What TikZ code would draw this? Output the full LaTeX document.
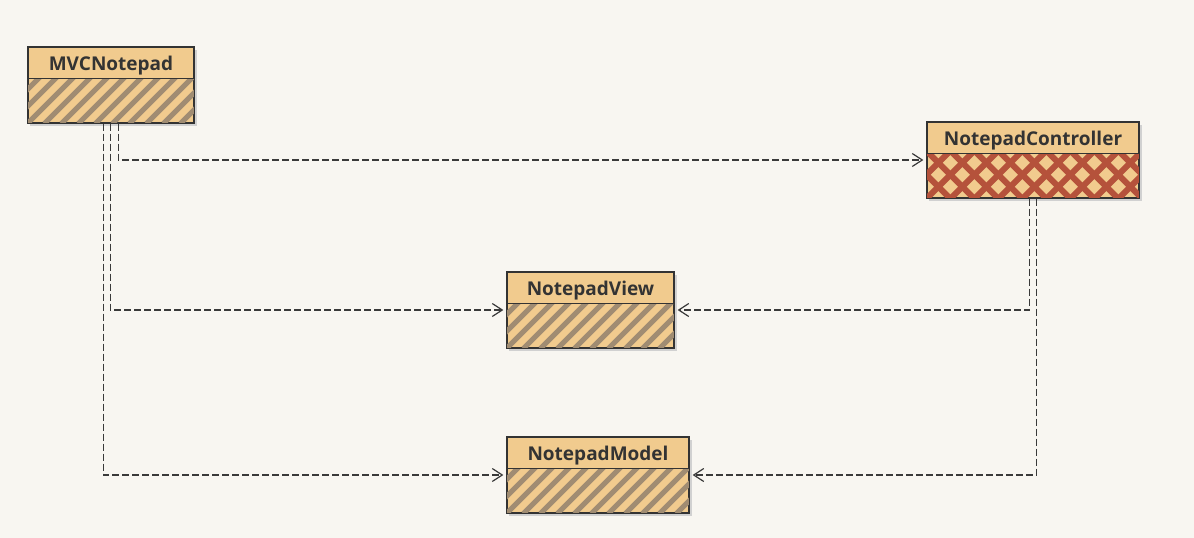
\documentclass[tikz,border=0pt]{standalone}
\usepackage{fontspec}
\setmainfont{Open Sans}
\usetikzlibrary{arrows.meta}
\definecolor{bg}{HTML}{F8F6F1}
\definecolor{tan}{HTML}{F1CB8E}
\definecolor{hatchc}{HTML}{A08C72}
\definecolor{crossc}{HTML}{B5523B}
\definecolor{ink}{HTML}{333333}
\definecolor{wire}{HTML}{3A3A3A}
\tikzset{
  umlbox/.style={draw=ink, line width=1.3pt, fill=tan, inner sep=0pt, minimum height=76pt},
  title/.style={font=\bfseries\fontsize{19}{21}\selectfont, text=ink, inner sep=0pt},
  dep/.style={draw=wire, line width=1.4pt, dash pattern=on 7pt off 3pt, -{Straight Barb[length=10pt,width=13pt,line width=1.2pt]}, shorten >=3pt},
  stripe/.style={draw=hatchc, line width=5pt},
  xstripe/.style={draw=crossc, line width=6pt}
}
\newcommand{\hatchbody}[1]{%
  \begin{scope}
    \clip (#1.south west) rectangle ([yshift=-32pt]#1.north east);
    \foreach \i in {-68,-51,...,240} {
      \draw[stripe] ([xshift=\i pt]#1.south west) -- ++(45:90pt);
    }
  \end{scope}}
\newcommand{\crossbody}[1]{%
  \begin{scope}
    \clip (#1.south west) rectangle ([yshift=-32pt]#1.north east);
    \foreach \i in {-72,-48,...,290} {
      \draw[xstripe] ([xshift=\i pt]#1.south west) -- ++(45:90pt);
      \draw[xstripe] ([xshift=\i pt]#1.south west) -- ++(135:90pt);
    }
  \end{scope}}
\newcommand{\finishbox}[2]{%
  \draw[ink, line width=1.3pt] ([yshift=-32pt]#1.north west) -- ([yshift=-32pt]#1.north east);
  \draw[ink, line width=1.3pt] (#1.north west) rectangle (#1.south east);
  \node[title] at ([yshift=-19pt]#1.north) {#2};}
\begin{document}
\begin{tikzpicture}[x=1pt,y=-1pt]
\useasboundingbox (0,0) rectangle (1194,538);
\fill[bg] (0,0) rectangle (1194,538);
% shadows
\fill[black!18] (30,50) rectangle (197,126);
\fill[black!18] (929,125) rectangle (1142,201);
\fill[black!18] (509,275) rectangle (677,351);
\fill[black!18] (509,440) rectangle (692,516);
% boxes
\node[umlbox, minimum width=166pt] (mvc) at (111,85) {};
\node[umlbox, minimum width=212pt] (ctrl) at (1033,160) {};
\node[umlbox, minimum width=167pt] (view) at (590.5,310) {};
\node[umlbox, minimum width=182pt] (model) at (598,475) {};
\hatchbody{mvc}
\crossbody{ctrl}
\hatchbody{view}
\hatchbody{model}
\finishbox{mvc}{MVCNotepad}
\finishbox{ctrl}{NotepadController}
\finishbox{view}{NotepadView}
\finishbox{model}{NotepadModel}
% connectors
\draw[dep] ([xshift=91pt]mvc.south west) |- (ctrl.west);
\draw[dep] ([xshift=83pt]mvc.south west) |- (view.west);
\draw[dep] ([xshift=76pt]mvc.south west) |- (model.west);
\draw[dep] ([xshift=103pt]ctrl.south west) |- (view.east);
\draw[dep] ([xshift=110pt]ctrl.south west) |- (model.east);
\end{tikzpicture}
\end{document}
